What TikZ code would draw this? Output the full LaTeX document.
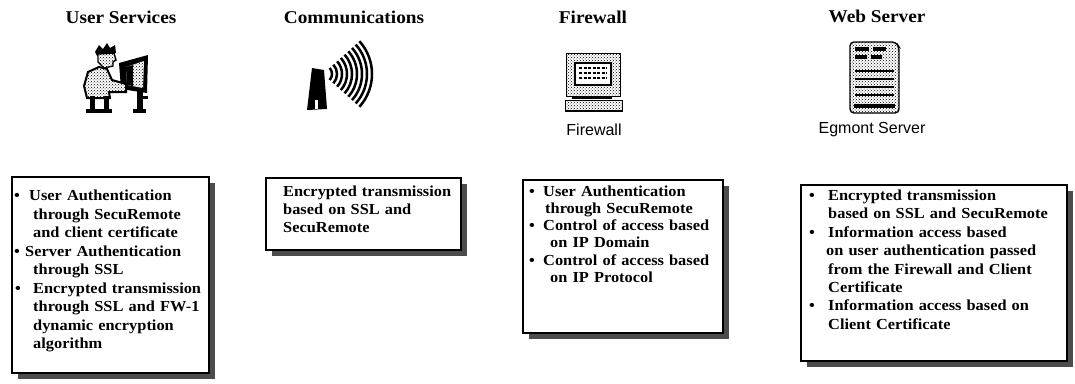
\documentclass[tikz,border=0pt]{standalone}
\usepackage{fontspec}
\setmainfont{Liberation Serif}
\newfontfamily\boxfont{Liberation Serif}[FakeStretch=1.07]
\newfontfamily\iconfont{Liberation Sans}
\usetikzlibrary{patterns,shadows}
\newcommand\bul[1]{\makebox[#1][l]{\textbullet}}

\begin{document}
\begin{tikzpicture}[x=1pt,y=-1pt,
  header/.style={font=\boxfont\bfseries\fontsize{18}{20}\selectfont, inner sep=0pt},
  iconlabel/.style={font=\iconfont\fontsize{16}{18}\selectfont, inner sep=0pt},
  infobox/.style={draw, line width=1.8pt, fill=white, inner sep=0pt, outer sep=0pt,
    anchor=north west,
    drop shadow={shadow xshift=6pt, shadow yshift=-6pt, opacity=1, fill=black!70}},
  boxtext/.style={font=\boxfont\bfseries\fontsize{15.3}{18}\selectfont,
    text width=260pt, align=left, inner sep=0pt, anchor=north west},
  halftone/.style={pattern=crosshatch dots, pattern color=black},
]
\useasboundingbox (0,0) rectangle (1075,383);

% ---------- column headings ----------
\node[header] (h1) at (121,17) {User Services};
\node[header] (h2) at (354,17) {Communications};
\node[header] (h3) at (593,17) {Firewall};
\node[header] (h4) at (877,16) {Web Server};

% ---------- user at a terminal ----------
\begin{scope}
  % monitor frame and screen
  \fill (119,63) -- (148,55) -- (147,93) -- (121,89) -- cycle;
  \fill[white] (126,67) -- (144,61) -- (143,88) -- (127,85) -- cycle;
  \fill[halftone] (126,67) -- (144,61) -- (143,88) -- (127,85) -- cycle;
  \fill (126,67) -- (133,65) -- (133,86) -- (127,85) -- cycle;
  % stand
  \fill (137,88) rectangle (143,112);
  \fill (133,109) rectangle (146,113);
  \fill (143,96) rectangle (148,99);
  % hair
  \fill (95,52) -- (99,45) -- (103,49) -- (107,43) -- (110,48) -- (115,45)
        -- (116,53) -- (97,56) -- cycle;
  % face
  \filldraw[fill=white, line width=1.4pt] (98,54) -- (114,53) -- (116,60) -- (113,62)
        -- (113,66) -- (104,68) -- (98,62) -- cycle;
  \fill[halftone] (98,54) -- (114,53) -- (116,60) -- (113,62) -- (113,66) -- (104,68)
        -- (98,62) -- cycle;
  % body and arms
  \filldraw[fill=white, line width=2pt] (99,67) -- (107,69) -- (112,80) -- (126,84)
        -- (126,92) -- (109,92) -- (110,98) -- (87,98) -- (84,86) -- (88,72) -- cycle;
  \fill[halftone] (99,67) -- (107,69) -- (112,80) -- (126,84) -- (126,92) -- (109,92)
        -- (110,98) -- (87,98) -- (84,86) -- (88,72) -- cycle;
  % legs and chair
  \fill (90,96) rectangle (95,112);
  \fill (104,96) rectangle (109,112);
  \fill (86,109) rectangle (112,113);
\end{scope}

% ---------- radio mast ----------
\begin{scope}
  \fill (312,68) -- (324,70) -- (327,109) -- (307,110) -- cycle;
  \fill[white] (315,100) rectangle (318,109);
  \foreach \r in {9,14,...,49}
    \draw[line width=2.5pt] (323,74) ++(-42:\r pt) arc[start angle=-42, end angle=42, radius=\r pt];
\end{scope}

% ---------- firewall computer ----------
\begin{scope}
  \filldraw[halftone, draw=black, line width=1pt] (566,53) rectangle (620,96);
  \filldraw[fill=white, line width=1.6pt] (575,63) rectangle (611,85);
  \foreach \yy in {68,73,78}
    \draw[line width=1.5pt, dash pattern=on 3pt off 1.5pt] (579,\yy) -- (607,\yy);
  \fill (572,96) rectangle (612,99);
  \filldraw[halftone, draw=black, line width=1pt] (565,100) rectangle (622,111);
  \draw[line width=2pt] (565,111) -- (622,111);
\end{scope}
\node[iconlabel] (fwlabel) at (594,130) {Firewall};

% ---------- server page ----------
\begin{scope}
  \filldraw[halftone, draw=black, line width=1.4pt, rounded corners=4pt]
    (850,42) -- (896,42) -- (899,47) -- (899,113) -- (850,113) -- cycle;
  \fill (855,47) rectangle (869,51);
  \fill (873,47) rectangle (886,51);
  \fill (855,55) rectangle (867,59);
  \fill (871,55) rectangle (882,59);
  \foreach \yy in {71,79,87,95}
    \draw[line width=1.2pt] (855,\yy) -- (894,\yy);
  \fill (854,104) rectangle (895,108);
\end{scope}
\node[iconlabel] (srvlabel) at (872,130) {Egmont Server};

% ---------- description boxes ----------
\node[infobox, minimum width=197pt, minimum height=196pt] (box1) at (12,177) {};
\node[boxtext, font=\boxfont\bfseries\fontsize{15.3}{18.5}\selectfont] (txt1)
  at ([shift={(2,10.4)}]box1.north west)
  {\strut\bul{15pt}User Authentication\\
   \hspace*{19pt}through SecuRemote\\
   \hspace*{19pt}and client certificate\\
   \bul{11pt}Server Authentication\\
   \hspace*{19pt}through SSL\\
   \hspace*{1pt}\bul{18pt}Encrypted transmission\\
   \hspace*{19pt}through SSL and FW-1\\
   \hspace*{19pt}dynamic encryption\\
   \hspace*{19pt}algorithm};

\node[infobox, minimum width=195pt, minimum height=72pt] (box2) at (266,178) {};
\node[boxtext] (txt2) at ([shift={(17,5.4)}]box2.north west)
  {\strut Encrypted transmission\\
   based on SSL and\\
   SecuRemote};

\node[infobox, minimum width=200pt, minimum height=153pt] (box3) at (523,180) {};
\node[boxtext, font=\boxfont\bfseries\fontsize{15.3}{17.3}\selectfont] (txt3)
  at ([shift={(6,3.7)}]box3.north west)
  {\strut\bul{14pt}User Authentication\\
   \hspace*{16pt}through SecuRemote\\
   \bul{14pt}Control of access based\\
   \hspace*{21pt}on IP Domain\\
   \bul{14pt}Control of access based\\
   \hspace*{21pt}on IP Protocol};

\node[infobox, minimum width=266pt, minimum height=176pt] (box4) at (801,185) {};
\node[boxtext, font=\boxfont\bfseries\fontsize{15.3}{18.4}\selectfont] (txt4)
  at ([shift={(8,2.4)}]box4.north west)
  {\strut\bul{19pt}Encrypted transmission\\
   \hspace*{19pt}based on SSL and SecuRemote\\
   \bul{19pt}Information access based\\
   \hspace*{17pt}on user authentication passed\\
   \hspace*{19pt}from the Firewall and Client\\
   \hspace*{19pt}Certificate\\
   \bul{19pt}Information access based on\\
   \hspace*{19pt}Client Certificate};
\end{tikzpicture}
\end{document}
